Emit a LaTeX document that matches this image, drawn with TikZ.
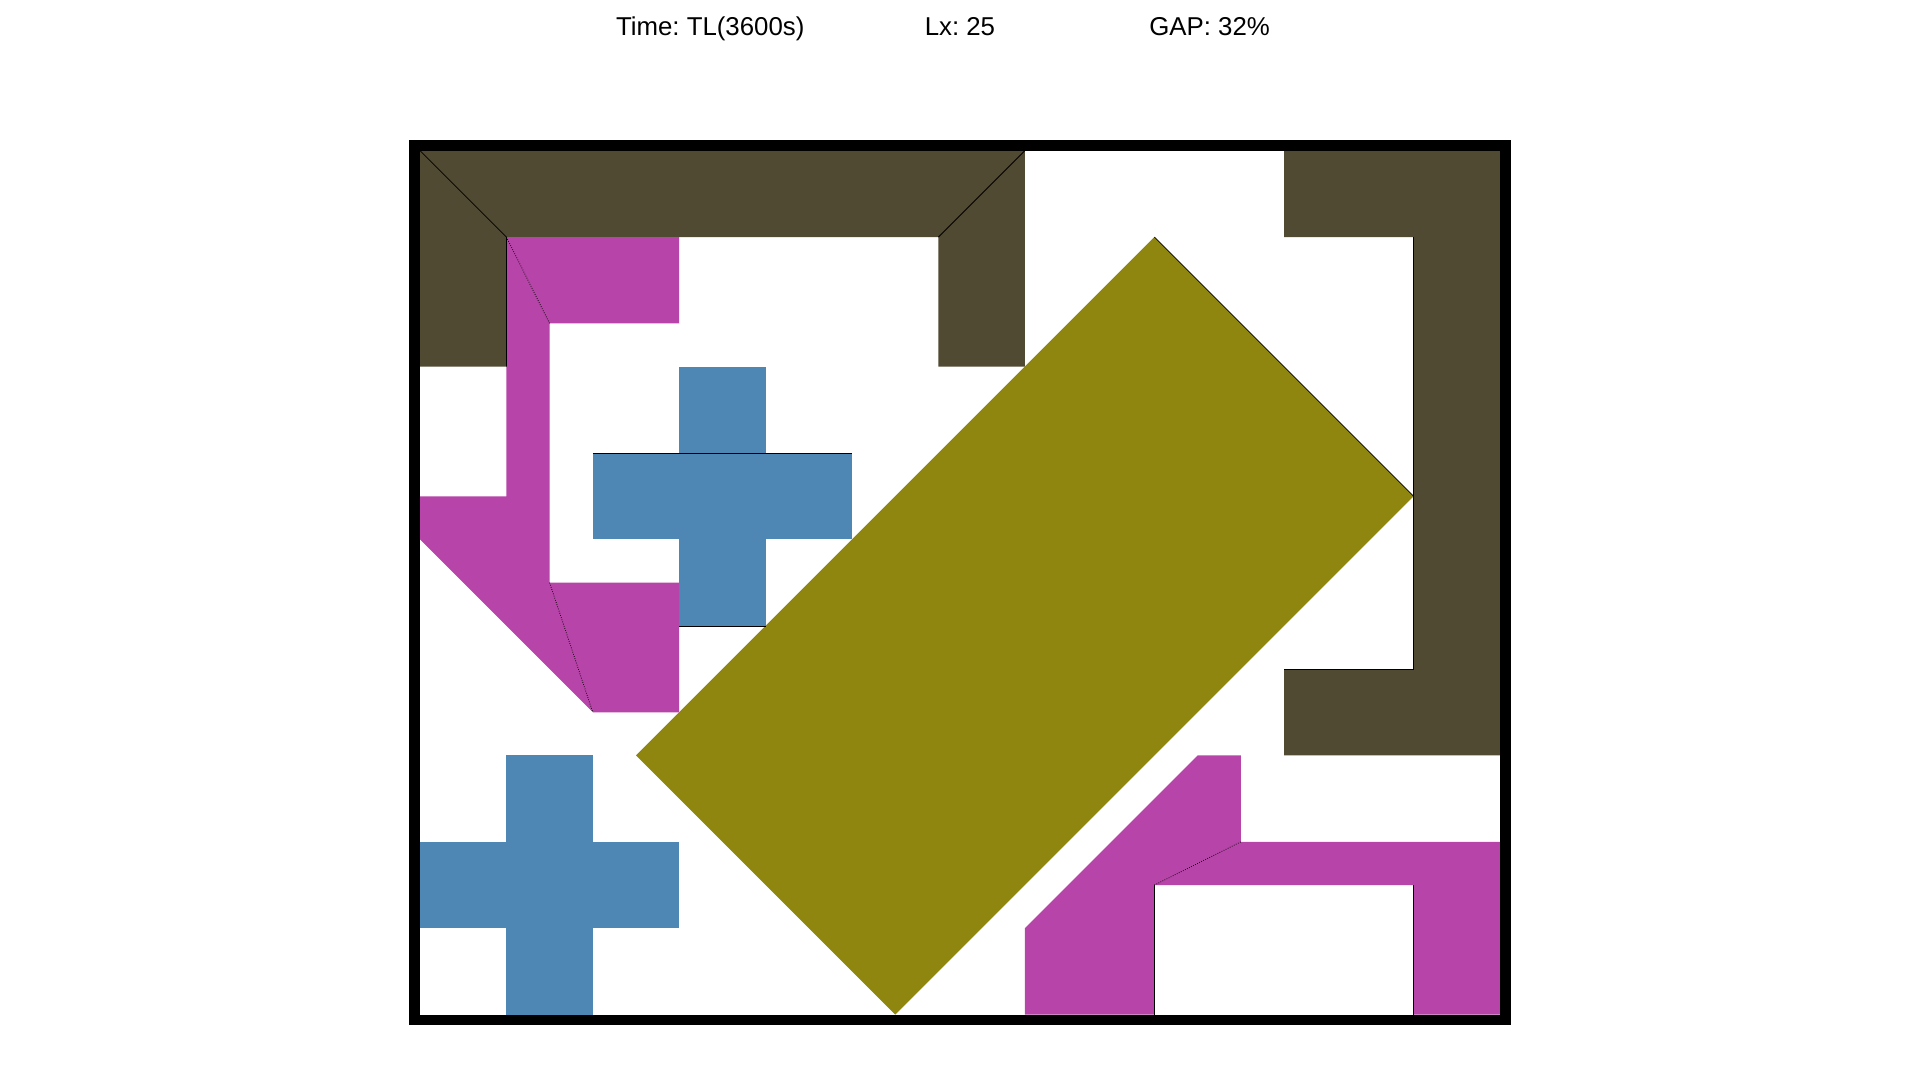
\documentclass[tikz,border=0pt]{standalone}
\usepackage{fontspec}
\setmainfont{Liberation Sans}
\frenchspacing
\definecolor{slabbrown}{HTML}{504A33}
\definecolor{slabolive}{HTML}{8F860F}
\definecolor{slabblue}{HTML}{4F87B4}
\definecolor{slabpink}{HTML}{B744A8}

\begin{document}
\begin{tikzpicture}[x=1cm,y=1cm,
  edge/.style={black, line width=0.5pt},
  dotedge/.style={black, line width=0.5pt, densely dotted},
  caption/.style={anchor=base, font=\fontsize{17}{20}\selectfont}]
\useasboundingbox (0,0) rectangle (44.444,25);
\node[caption] (time) at (16.44,24.17) {Time: TL(3600s)};
\node[caption] (lx) at (22.22,24.17) {Lx: 25};
\node[caption] (gap) at (28.0,24.17) {GAP: 32\%};
\begin{scope}[shift={(9.722,21.512)}, yscale=-1]
\fill[slabbrown] (0,0) -- (14,0) -- (14,5) -- (12,5) -- (12,2) -- (2,2) -- (2,5) -- (0,5) -- cycle;
\fill[slabbrown] (20,0) -- (25,0) -- (25,14) -- (20,14) -- (20,12) -- (23,12) -- (23,2) -- (20,2) -- cycle;
\fill[slabolive] (17,2) -- (23,8) -- (11,20) -- (5,14) -- cycle;
\fill[slabblue] (6,5) rectangle (8,11);
\fill[slabblue] (4,7) rectangle (10,9);
\fill[slabblue] (2,14) rectangle (4,20);
\fill[slabblue] (0,16) rectangle (6,18);
\fill[slabpink] (2,2) -- (6,2) -- (6,4) -- (3,4) -- (3,10) -- (6,10) -- (6,13) -- (4,13) -- (0,9) -- (0,8) -- (2,8) -- cycle;
\fill[slabpink] (18,14) -- (19,14) -- (19,16) -- (25,16) -- (25,20) -- (23,20) -- (23,17) -- (17,17) -- (17,20) -- (14,20) -- (14,18) -- cycle;
% piece edges
\draw[edge] (0,0) -- (2,2) -- (2,5);
\draw[edge] (14,0) -- (12,2);
\draw[edge] (23,2) -- (23,12) -- (20,12);
\draw[edge] (17,2) -- (23,8);
\draw[edge] (4,7) -- (10,7);
\draw[edge] (6,11) -- (8,11);
\draw[edge] (17,17) -- (17,20);
\draw[edge] (23,17) -- (23,20);
\draw[dotedge] (2,2) -- (3,4);
\draw[dotedge] (3,10) -- (4,13);
\draw[dotedge] (17,17) -- (19,16);
% container
\draw[black, line width=0.25cm] (-0.125,-0.125) rectangle (25.125,20.125);
\end{scope}
\end{tikzpicture}
\end{document}
